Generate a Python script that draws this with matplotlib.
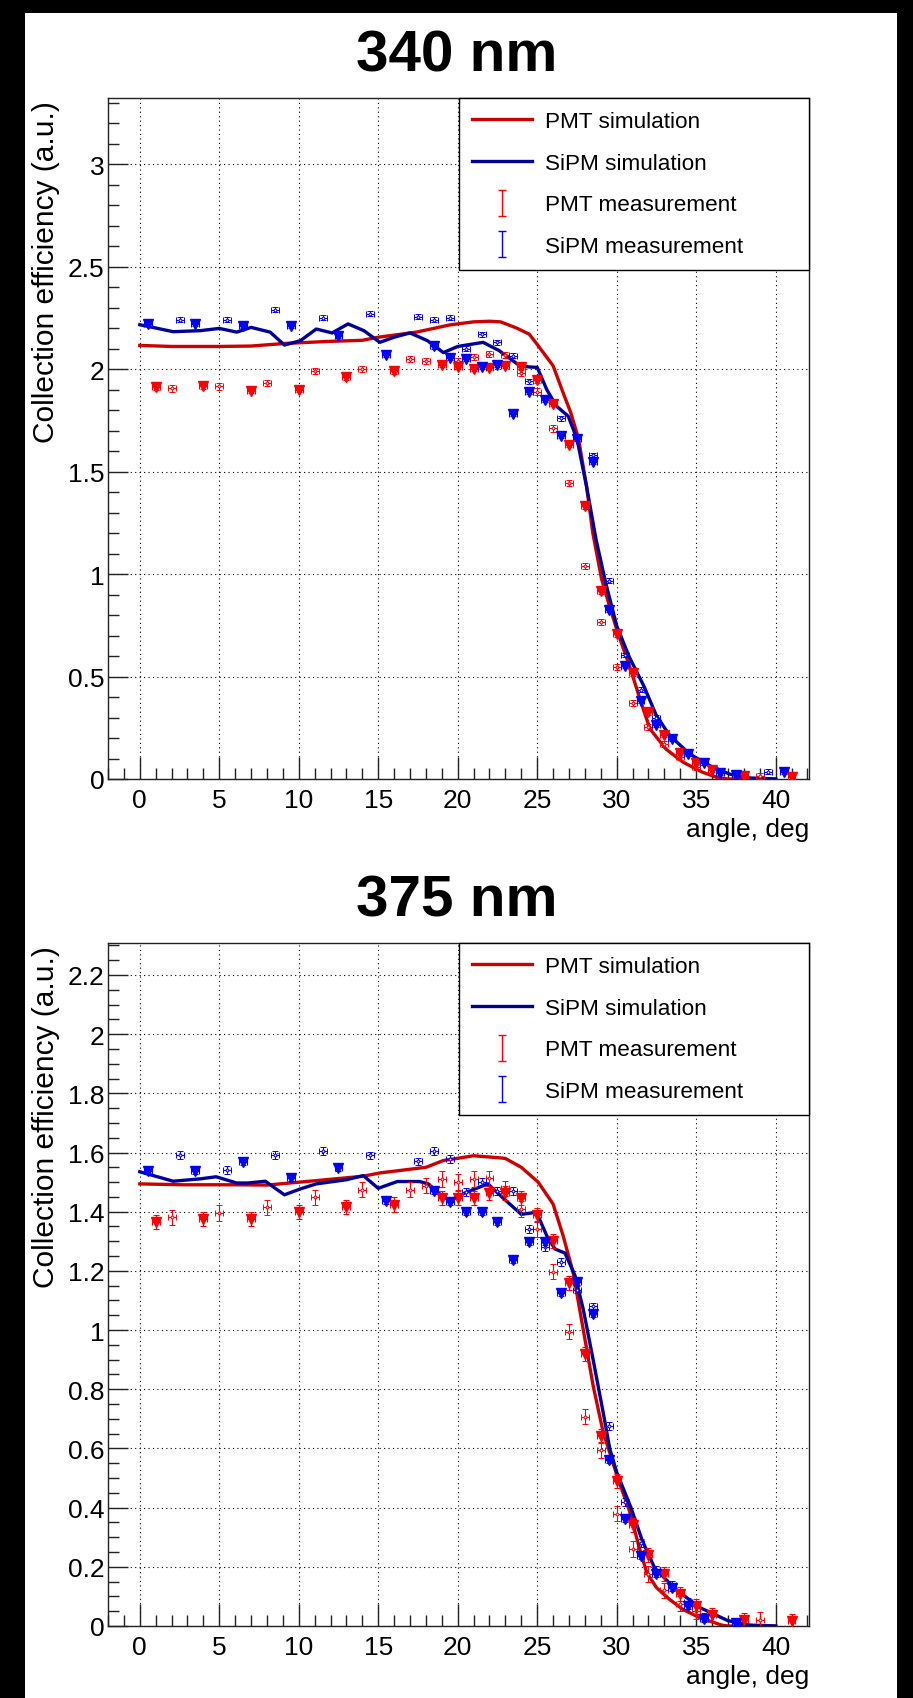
import numpy as np
import matplotlib
matplotlib.use("Agg")
import matplotlib.pyplot as plt
from matplotlib.patches import Rectangle
from matplotlib.ticker import MultipleLocator, FuncFormatter
from matplotlib.container import ErrorbarContainer
from matplotlib.legend_handler import HandlerErrorbar

plt.rcParams['font.family'] = ['Liberation Sans', 'DejaVu Sans']

# ---------------------------------------------------------------- 340 nm data
pmt340_sim_x = [0, 2, 5, 7, 9.2, 12, 14, 15, 17.4, 19.5, 20, 21, 22, 22.7, 23.7, 24.5, 25, 26,
                26.7, 27.1, 27.6, 28.1, 28.5, 29.05, 29.6, 30.1, 30.8, 31.6, 32.1, 33.1, 34.2,
                35.4, 36.3, 37, 40]
pmt340_sim_y = [2.115, 2.11, 2.11, 2.112, 2.125, 2.135, 2.14, 2.155, 2.18, 2.215, 2.22, 2.23,
                2.233, 2.23, 2.20, 2.17, 2.12, 2.016, 1.87, 1.79, 1.66, 1.43, 1.20, 0.976, 0.83,
                0.707, 0.553, 0.358, 0.244, 0.146, 0.081, 0.033, 0.008, 0.0, 0.0]

sipm340_sim_x = [0, 1, 2.1, 3.8, 5, 6.1, 7, 8.2, 9.1, 10.1, 11.1, 12.1, 13.1, 14.1, 15.1, 16, 17,
                 18.1, 19.1, 20, 21.6, 22.6, 23.3, 23.9, 24.5, 25, 25.6, 26.2, 26.95, 27.5, 28.1,
                 28.7, 29.3, 30, 30.8, 31.7, 32.5, 33.35, 34.6, 35.85, 37.1, 38.4, 40]
sipm340_sim_y = [2.216, 2.20, 2.182, 2.187, 2.198, 2.18, 2.203, 2.18, 2.117, 2.138, 2.195, 2.176,
                 2.22, 2.187, 2.13, 2.155, 2.176, 2.138, 2.08, 2.11, 2.13, 2.09, 2.05, 2.016, 2.01,
                 2.008, 1.90, 1.82, 1.77, 1.66, 1.43, 1.17, 0.96, 0.748, 0.594, 0.455, 0.309,
                 0.211, 0.122, 0.065, 0.024, 0.005, 0.0]

pmt340_a_x = [1, 4, 7, 10, 13, 16, 19, 20, 21, 22, 23, 24, 25, 26, 27, 28, 29, 30, 31, 32, 33,
              34, 35, 36, 38, 41]
pmt340_a_y = [1.91, 1.915, 1.895, 1.90, 1.96, 1.99, 2.02, 2.01, 2.00, 2.005, 2.015, 2.01, 1.945,
              1.83, 1.63, 1.33, 0.915, 0.705, 0.515, 0.325, 0.216, 0.127, 0.078, 0.044, 0.016,
              0.008]
pmt340_b_x = [2, 5, 8, 11, 14, 17, 18, 20, 21, 22, 23, 24, 25, 26, 27, 28, 29, 30, 31, 32, 33,
              34, 35, 39]
pmt340_b_y = [1.905, 1.915, 1.93, 1.99, 2.00, 2.05, 2.04, 2.04, 2.06, 2.075, 2.07, 1.98, 1.89,
              1.71, 1.444, 1.04, 0.767, 0.545, 0.37, 0.252, 0.17, 0.106, 0.06, 0.016]

sipm340_a_x = [0.5, 3.5, 6.5, 9.5, 12.5, 15.5, 18.5, 19.5, 20.5, 21.5, 22.5, 23.5, 24.5, 25.5,
               26.5, 27.5, 28.5, 29.5, 30.5, 31.5, 32.5, 33.5, 34.5, 35.5, 36.5, 37.5, 40.5]
sipm340_a_y = [2.22, 2.22, 2.21, 2.21, 2.16, 2.07, 2.11, 2.055, 2.05, 2.01, 2.02, 1.78, 1.89,
               1.85, 1.675, 1.66, 1.545, 0.826, 0.553, 0.38, 0.263, 0.195, 0.12, 0.078, 0.03,
               0.02, 0.034]
sipm340_b_x = [2.5, 5.5, 8.5, 11.5, 14.5, 17.5, 18.5, 19.5, 20.5, 21.5, 22.5, 23.5, 24.5, 26.5,
               28.5, 29.5, 30.5, 31.5, 32.5, 33.5, 34.5, 35.5, 37.5, 39.5]
sipm340_b_y = [2.24, 2.24, 2.29, 2.25, 2.27, 2.255, 2.24, 2.25, 2.10, 2.17, 2.13, 2.065, 1.94,
               1.76, 1.58, 0.967, 0.605, 0.436, 0.30, 0.203, 0.127, 0.08, 0.03, 0.036]

# ---------------------------------------------------------------- 375 nm data
pmt375_sim_x = [0, 2.7, 5.9, 8, 11.1, 14.06, 15.1, 18, 19.1, 21, 22.65, 23, 24, 25.06, 26, 26.63,
                27.26, 27.89, 28.52, 29.15, 29.6, 30.1, 30.8, 31.5, 31.9, 32.5, 33.3, 34.2, 35.2,
                36.6, 37, 40]
pmt375_sim_y = [1.494, 1.491, 1.491, 1.49, 1.505, 1.52, 1.531, 1.55, 1.573, 1.589, 1.582, 1.58,
                1.55, 1.50, 1.426, 1.319, 1.195, 1.004, 0.812, 0.655, 0.58, 0.495, 0.39, 0.25,
                0.18, 0.13, 0.091, 0.055, 0.029, 0.003, 0.0, 0.0]

sipm375_sim_x = [0, 2.1, 3.8, 4.8, 6.1, 6.8, 7.9, 9.1, 10.1, 11.1, 13.0, 14.06, 15.0, 16.2, 17.6,
                 18.15, 19.0, 19.5, 20.56, 21.9, 22.86, 24.0, 24.96, 25.6, 26.12, 26.75, 27.38,
                 27.9, 28.52, 29.15, 29.57, 30.0, 30.9, 31.6, 32.4, 33.7, 35.2, 37.0, 38.4, 40]
sipm375_sim_y = [1.535, 1.503, 1.511, 1.518, 1.497, 1.497, 1.503, 1.457, 1.477, 1.494, 1.508,
                 1.522, 1.479, 1.502, 1.502, 1.494, 1.454, 1.437, 1.466, 1.494, 1.446, 1.391,
                 1.398, 1.319, 1.274, 1.26, 1.184, 1.07, 0.90, 0.722, 0.598, 0.52, 0.40, 0.29,
                 0.195, 0.125, 0.063, 0.018, 0.003, 0.0]

pmt375_a_x = [1, 4, 7, 10, 13, 16, 19, 20, 21, 22, 23, 24, 25, 26, 27, 28, 29, 30, 31, 32, 33,
              34, 35, 36, 38, 41]
pmt375_a_y = [1.366, 1.375, 1.375, 1.40, 1.415, 1.424, 1.446, 1.446, 1.446, 1.463, 1.463, 1.446,
              1.39, 1.30, 1.159, 0.919, 0.641, 0.49, 0.34, 0.24, 0.176, 0.108, 0.066, 0.038,
              0.021, 0.017]
pmt375_b_x = [2, 5, 8, 11, 14, 17, 18, 19, 20, 21, 22, 23, 24, 25, 26, 27, 28, 29, 30, 31, 32,
              33, 34, 35, 39]
pmt375_b_y = [1.381, 1.395, 1.415, 1.449, 1.474, 1.474, 1.488, 1.511, 1.50, 1.511, 1.513, 1.479,
              1.409, 1.342, 1.197, 0.995, 0.707, 0.595, 0.38, 0.26, 0.176, 0.12, 0.075, 0.05,
              0.021]

sipm375_a_x = [0.5, 3.5, 6.5, 9.5, 12.5, 15.5, 18.5, 19.5, 20.5, 21.5, 22.5, 23.5, 24.5, 25.5,
               26.5, 27.5, 28.5, 29.5, 30.5, 31.5, 32.5, 33.5, 34.5, 35.5, 37.5]
sipm375_a_y = [1.539, 1.539, 1.567, 1.514, 1.547, 1.435, 1.471, 1.433, 1.40, 1.40, 1.366, 1.237,
               1.297, 1.297, 1.125, 1.162, 1.054, 0.56, 0.36, 0.238, 0.176, 0.127, 0.066, 0.024,
               0.01]
sipm375_b_x = [2.5, 5.5, 8.5, 11.5, 14.5, 17.5, 18.5, 19.5, 20.5, 21.5, 22.5, 23.5, 24.5, 25.5,
               26.5, 27.5, 28.5, 29.5, 30.5, 31.5, 32.5, 33.5, 34.5, 35.5, 37.5]
sipm375_b_y = [1.592, 1.541, 1.592, 1.606, 1.59, 1.570, 1.606, 1.578, 1.466, 1.50, 1.471, 1.471,
               1.342, 1.28, 1.231, 1.137, 1.08, 0.677, 0.42, 0.28, 0.19, 0.14, 0.08, 0.03, 0.012]

legend_labels = ["PMT simulation", "SiPM simulation", "PMT measurement", "SiPM measurement"]
titles = ["340 nm", "375 nm"]
x_title = "angle, deg"
y_title = "Collection efficiency (a.u.)"

# ---------------------------------------------------------------- styling
SIM_RED = "#cc0000"
SIM_BLUE = "#000099"
MEAS_RED = "#ff0000"
MEAS_BLUE = "#0000ff"

W, H, DPI = 913, 1699, 100
fig = plt.figure(figsize=(W / DPI, H / DPI), dpi=DPI)
fig.patch.set_facecolor("black")
fig.add_artist(Rectangle((25 / W, 0), (897 - 25) / W, (H - 14) / H,
                         transform=fig.transFigure, facecolor="white",
                         edgecolor="none", zorder=-5))

PX = 72.0 / DPI  # points per pixel


def fig_box(left, top, right, bottom):
    return [left / W, 1 - bottom / H, (right - left) / W, (bottom - top) / H]


def fmt_tick(v, _):
    return f"{round(v, 3):g}"


def draw_panel(rect, ymax, ymajor, yminor, title, title_base,
               pmt_sim, sipm_sim, pmt_a, pmt_b, sipm_a, sipm_b, errs):
    ax = fig.add_axes(rect)
    ax.set_facecolor("white")
    ax.set_xlim(-2.0, 42.1)
    ax.set_ylim(0, ymax)
    ax.xaxis.set_major_locator(MultipleLocator(5))
    ax.xaxis.set_minor_locator(MultipleLocator(1))
    ax.yaxis.set_major_locator(MultipleLocator(ymajor))
    ax.yaxis.set_minor_locator(MultipleLocator(yminor))
    ax.xaxis.set_major_formatter(FuncFormatter(fmt_tick))
    ax.yaxis.set_major_formatter(FuncFormatter(fmt_tick))
    ax.tick_params(which="both", direction="in", top=False, right=False,
                   width=1.0, color="#222222", labelsize=19, labelcolor="black")
    ax.tick_params(axis="x", which="major", length=22 * PX, pad=6.5)
    ax.tick_params(axis="x", which="minor", length=11 * PX)
    ax.tick_params(axis="y", which="major", length=20 * PX, pad=2.5)
    ax.tick_params(axis="y", which="minor", length=11 * PX)
    for s in ax.spines.values():
        s.set_linewidth(1.0)
        s.set_color("#222222")
    ax.grid(True, which="major", color="black", linestyle=(0, (1, 3)), linewidth=0.8)
    ax.set_axisbelow(True)

    h_pmt, = ax.plot(*pmt_sim, color=SIM_RED, lw=2.4, solid_joinstyle="round", zorder=3)
    h_sipm, = ax.plot(*sipm_sim, color=SIM_BLUE, lw=2.4, solid_joinstyle="round", zorder=3.1)

    ea_r, eb_r, ea_b, eb_b = errs
    ax.errorbar(*pmt_b, xerr=0.25, yerr=eb_r, fmt="o", ms=2, mfc="white", mec=MEAS_RED,
                mew=0.7, ecolor=MEAS_RED, elinewidth=0.8, capsize=2, capthick=0.8, zorder=4)
    ax.errorbar(*sipm_b, xerr=0.25, yerr=eb_b, fmt="o", ms=2, mfc="white", mec=MEAS_BLUE,
                mew=0.7, ecolor=MEAS_BLUE, elinewidth=0.8, capsize=2, capthick=0.8, zorder=4)
    ax.errorbar(*pmt_a, xerr=0.25, yerr=ea_r, fmt="v", ms=7.5, color=MEAS_RED, mec=MEAS_RED,
                ecolor=MEAS_RED, elinewidth=0.8, capsize=2.5, capthick=0.8, zorder=5)
    ax.errorbar(*sipm_a, xerr=0.25, yerr=ea_b, fmt="v", ms=7.5, color=MEAS_BLUE, mec=MEAS_BLUE,
                ecolor=MEAS_BLUE, elinewidth=0.8, capsize=2.5, capthick=0.8, zorder=5)

    # legend entries for the measurements: bare vertical error bars
    leg_r = ax.errorbar([np.nan], [np.nan], yerr=[1], fmt="none", ecolor=MEAS_RED,
                        elinewidth=1.0, capsize=3, capthick=1.0)
    leg_b = ax.errorbar([np.nan], [np.nan], yerr=[1], fmt="none", ecolor=MEAS_BLUE,
                        elinewidth=1.0, capsize=3, capthick=1.0)
    leg = ax.legend([h_pmt, h_sipm, leg_r, leg_b], legend_labels,
                    loc="upper left", bbox_to_anchor=(0.5, 0.75, 0.5, 0.25), mode="expand",
                    borderaxespad=0, fontsize=16.2, frameon=True, fancybox=False,
                    framealpha=1, edgecolor="black", borderpad=0.58, labelspacing=0.92,
                    handlelength=2.7, handletextpad=0.58,
                    handler_map={ErrorbarContainer: HandlerErrorbar(yerr_size=0.58)})
    leg.get_frame().set_linewidth(1.0)
    leg.set_zorder(10)

    ax.text(1.0, -57 / (rect[3] * H), x_title, transform=ax.transAxes,
            ha="right", va="baseline", fontsize=19)
    fig.text(457 / W, 1 - title_base / H, title, ha="center", va="baseline",
             fontsize=42, fontweight="bold")
    top_px = (1 - rect[1] - rect[3]) * H
    fig.text(46 / W, 1 - (top_px + 2) / H, y_title, rotation=90, ha="center", va="top",
             fontsize=21.5)
    return ax


draw_panel(fig_box(108, 99, 809, 780), 3.322, 0.5, 0.1, titles[0], 71,
           (pmt340_sim_x, pmt340_sim_y), (sipm340_sim_x, sipm340_sim_y),
           (pmt340_a_x, pmt340_a_y), (pmt340_b_x, pmt340_b_y),
           (sipm340_a_x, sipm340_a_y), (sipm340_b_x, sipm340_b_y),
           (0.012, 0.015, 0.01, 0.012))

draw_panel(fig_box(108, 944, 809, 1627), 2.308, 0.2, 0.05, titles[1], 917,
           (pmt375_sim_x, pmt375_sim_y), (sipm375_sim_x, sipm375_sim_y),
           (pmt375_a_x, pmt375_a_y), (pmt375_b_x, pmt375_b_y),
           (sipm375_a_x, sipm375_a_y), (sipm375_b_x, sipm375_b_y),
           (0.024, 0.026, 0.01, 0.013))

fig.savefig("out.png", dpi=DPI, facecolor=fig.get_facecolor())
